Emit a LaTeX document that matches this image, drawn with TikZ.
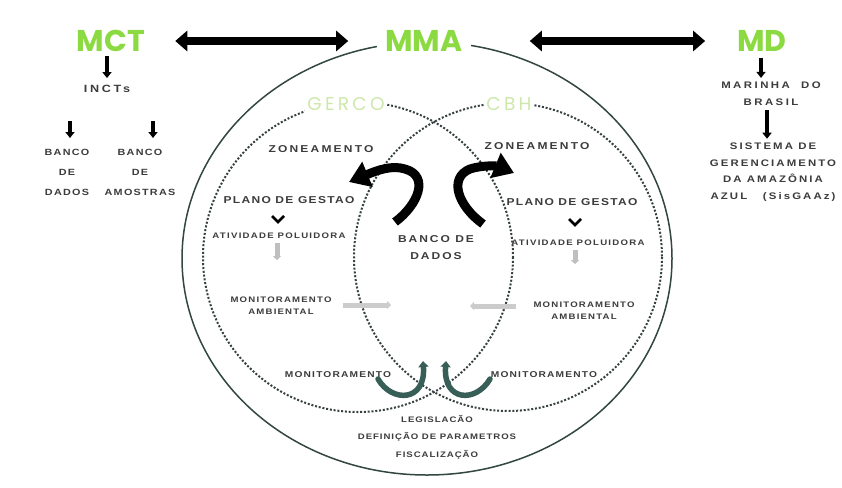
\documentclass[tikz,border=0pt]{standalone}
\usepackage{fontspec}
\setmainfont{Liberation Sans}
\newfontfamily\titlefont{Poppins}
\newfontfamily\subtitlefont{Poppins}[LetterSpace=18]
\newcommand\lf[3]{\fontspec{Liberation Sans Bold}[LetterSpace=#3, FakeStretch=1.2]\fontsize{#1}{#2}\selectfont}
\usetikzlibrary{arrows.meta}
\definecolor{lime}{RGB}{140,218,65}
\definecolor{palelime}{RGB}{205,232,170}
\definecolor{ringcol}{RGB}{50,70,66}
\definecolor{dotcol}{RGB}{55,65,65}
\definecolor{txt}{RGB}{60,60,60}
\definecolor{teal}{RGB}{55,95,88}
\tikzset{
  title/.style={text=lime, font=\titlefont\bfseries\fontsize{30}{30}\selectfont, inner sep=3pt},
  subtitle/.style={text=palelime, font=\subtitlefont\fontsize{18.5}{18.5}\selectfont, fill=white, inner sep=2pt},
  lbl/.style={text=txt, align=center, inner sep=1pt},
  bigarrow/.style={line width=7.5pt, black, {Triangle[length=12pt,width=20pt]}-{Triangle[length=12pt,width=20pt]}},
  smallarrow/.style={line width=3.5pt, black, -{Triangle[length=6pt,width=9pt]}},
  hookarrow/.style={line width=9pt, black, -{Triangle[length=20pt,width=26pt]}},
  grayarrow/.style={line width=5pt, gray!50, -{Triangle[length=4pt,width=8pt]}},
  tealarrow/.style={line width=5.5pt, teal, line cap=round, -{Triangle[length=6pt,width=10pt]}},
  chev/.style={line width=2.8pt, black},
  ring/.style={line width=1.5pt, ringcol},
  dotring/.style={line width=2pt, dotcol, dash pattern=on 2pt off 1.8pt}
}
\begin{document}
\begin{tikzpicture}[x=1pt,y=-1pt]
\useasboundingbox[fill=white] (0,0) rectangle (842,487);

% rings
\draw[ring] (427,258.5) ellipse [x radius=245, y radius=216.5];
\draw[dotring] (358,257) circle [radius=155];
\draw[dotring] (508,257) circle [radius=154];

% titles
\node[title] (mct) at (111,41) {MCT};
\node[title, fill=white, inner xsep=8pt] (mma) at (424,41) {MMA};
\node[title] (md) at (762,41) {MD};

\draw[bigarrow, shorten <=27pt, shorten >=29pt] (mct) -- (mma);
\draw[bigarrow, shorten <=59pt, shorten >=29pt] (mma) -- (md);

% left column
\node[lbl, font={\lf{10.5}{12}{26}}] (incts) at (107,89) {INCTs};
\draw[smallarrow, shorten <=1pt, shorten >=6pt] (mct.south -| incts.north) -- (incts.north);
\node[lbl, font={\lf{9}{20}{14}}] (bdados) at (67,172) {BANCO\\DE\\DADOS};
\node[lbl, font={\lf{9}{20}{14}}] (bamost) at (140,172) {BANCO\\DE\\AMOSTRAS};
\coordinate (l1a) at (70,121);
\coordinate (l1b) at (70,138);
\coordinate (l2a) at (153,121);
\coordinate (l2b) at (153,138);
\draw[smallarrow] (l1a) -- (l1b);
\draw[smallarrow] (l2a) -- (l2b);

% right column
\node[lbl, font={\lf{9.5}{17}{26}}] (marinha) at (771,94) {MARINHA\ \ DO\\BRASIL};
\draw[smallarrow, shorten <=3pt, shorten >=3pt] (md.south -| 761,0) -- (marinha.north -| 761,0);
\node[lbl, font={\lf{9.5}{16.5}{22}}] (sis) at (773,172) {SISTEMA DE\\GERENCIAMENTO\\DA AMAZÔNIA\\AZUL\ \ \ (SisGAAz)};
\draw[smallarrow, shorten <=3pt, shorten >=3pt] (marinha.south -| 767,0) -- (sis.north -| 767,0);

% inner labels
\node[subtitle] (gerco) at (346,104) {GERCO};
\node[subtitle] (cbh) at (509,104) {CBH};

\node[lbl, font={\lf{10}{12}{22}}] (zonl) at (321,149) {ZONEAMENTO};
\node[lbl, font={\lf{10}{12}{22}}] (zonr) at (537,146) {ZONEAMENTO};
\node[lbl, font={\lf{10}{12}{13}}] (planl) at (289,200) {PLANO DE GESTAO};
\node[lbl, font={\lf{10}{12}{13}}] (planr) at (572,202) {PLANO DE GESTAO};
\node[lbl, font={\lf{8}{12}{16}}] (atvl) at (279,236) {ATIVIDADE POLUIDORA};
\node[lbl, font={\lf{8}{12}{16}}] (atvr) at (578,243) {ATIVIDADE POLUIDORA};
\node[lbl, font={\lf{10}{17}{20}}] (banco) at (436,248) {BANCO DE\\DADOS};
\node[lbl, font={\lf{8}{12}{15}}] (monal) at (281,306) {MONITORAMENTO\\AMBIENTAL};
\node[lbl, font={\lf{8}{12}{15}}] (monar) at (584,311) {MONITORAMENTO\\AMBIENTAL};
\node[lbl, font={\lf{8.5}{12}{14}}] (monl) at (338,375) {MONITORAMENTO};
\node[lbl, font={\lf{8.5}{12}{14}}] (monr) at (544,375) {MONITORAMENTO};
\node[lbl, font={\lf{8}{17.5}{12}}] (legis) at (437,437) {LEGISLACÃO\\DEFINIÇÃO DE PARAMETROS\\FISCALIZAÇÃO};

% chevrons
\draw[chev] (272,216) -- (278,222) -- (284,216);
\draw[chev] (569,219) -- (575,225) -- (581,219);

% gray arrows
\draw[grayarrow, shorten <=3pt, shorten >=3pt] (atvl.south -| 277,0) -- (277,263);
\draw[grayarrow, shorten <=3pt] (atvr.south -| 575,0) -- (575,264);
\coordinate (ghl1) at (343,305);
\coordinate (ghl2) at (391,305);
\coordinate (ghr1) at (516,306);
\coordinate (ghr2) at (470,306);
\draw[grayarrow, gray!40] (ghl1) -- (ghl2);
\draw[grayarrow, gray!40] (ghr1) -- (ghr2);

% black hook arrows
\coordinate (hl1) at (395,222);
\coordinate (hl2) at (349,182);
\coordinate (hr1) at (483,224);
\coordinate (hr2) at (514,173);
\draw[hookarrow] (hl1) .. controls (418,205) and (430,176) .. (405,169) .. controls (392,165) and (378,170) .. (hl2);
\draw[hookarrow] (hr1) .. controls (458,206) and (448,178) .. (470,169) .. controls (482,165) and (497,166) .. (hr2);

% teal swooshes
\coordinate (tl1) at (378,379);
\coordinate (tl2) at (423,361);
\coordinate (tr1) at (490,379);
\coordinate (tr2) at (446,361);
\draw[tealarrow] (tl1) .. controls (392,403) and (426,402) .. (tl2);
\draw[tealarrow] (tr1) .. controls (476,403) and (443,402) .. (tr2);
\end{tikzpicture}
\end{document}
